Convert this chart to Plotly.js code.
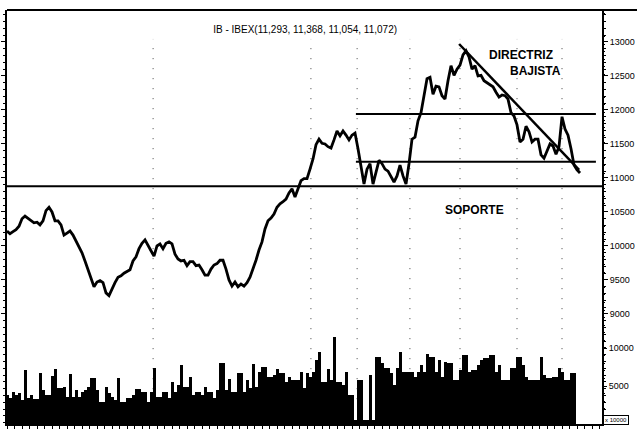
<!DOCTYPE html>
<html>
<head>
<meta charset="utf-8">
<script src="https://cdn.plot.ly/plotly-3.0.1.min.js"></script>
<style>html,body{margin:0;padding:0;background:#fff}#chart{width:637px;height:429px}</style>
</head>
<body>
<div id="chart"></div>
<script>
// IBEX daily closes (trading-day index 0..191)
const price = [
10220,10180,10210,10240,10290,10400,10440,10410,10370,10340,
10350,10310,10370,10520,10570,10500,10370,10370,10310,10160,
10190,10220,10160,10070,10000,9900,9780,9660,9530,9400,
9470,9490,9460,9310,9270,9370,9460,9540,9560,9600,
9630,9650,9780,9840,9960,10040,10090,10000,9930,9850,
10000,10030,9960,10040,10060,10030,9880,9810,9780,9790,
9710,9770,9770,9710,9720,9650,9570,9570,9660,9720,
9740,9790,9790,9660,9500,9410,9470,9400,9440,9410,
9460,9540,9660,9790,9940,10060,10250,10370,10410,10470,
10570,10620,10650,10690,10780,10840,10720,10840,10960,10990,
10990,11130,11280,11490,11570,11510,11500,11460,11440,11560,
11690,11620,11690,11630,11560,11630,11660,11430,11160,10910,
11130,11210,10910,11100,11260,11210,11130,11100,11030,10940,
11030,11190,11030,10910,11210,11570,11600,11840,11960,12230,
12460,12480,12230,12350,12340,12210,12160,12430,12650,12510,
12600,12660,12810,12870,12780,12600,12650,12500,12510,12430,
12400,12370,12340,12260,12190,12220,12210,12160,11960,11910,
11780,11530,11570,11760,11680,11530,11570,11570,11340,11290,
11400,11500,11470,11350,11460,11900,11720,11630,11430,11190,
11120,11072
];
// daily volume
const volume = [
3820,3420,4210,3820,4080,3160,7110,3420,3820,3290,
3290,6710,4470,3820,3820,6320,7240,4740,4740,4870,
3550,6580,3550,4470,3550,4210,4470,4870,6050,6050,
4470,2900,2900,4870,4080,3550,3160,6050,2900,2900,
3420,3420,3820,4610,4610,4210,4210,2900,4210,7370,
3550,3550,4210,4210,3420,5530,4210,5130,7760,4870,
4870,6190,3820,4210,4210,3820,4870,4210,4210,3420,
4470,8030,8030,4470,5920,4210,4210,6710,6710,4210,
5790,4740,7900,4870,6840,7500,7500,6190,6190,6450,
7240,6710,6710,5530,6190,5790,5790,5790,6840,4740,
6710,6190,6840,8420,9480,5530,5530,7240,5790,11450,
5530,5530,5130,6840,3820,3820,530,5790,5790,530,
530,6450,530,8820,8820,8030,7370,7370,6710,5130,
7370,9480,6840,6840,6840,6840,6190,6840,7760,6840,
9210,8820,8820,6840,8420,6190,8160,8030,8030,5790,
5790,7110,9080,9080,6840,7110,7110,7760,8420,8690,
8690,9080,9080,6840,7760,5790,5790,5790,7370,7370,
8820,8820,7760,6190,5790,5790,5790,5790,8820,6450,
6050,6050,6190,6190,7370,6840,5790,5790,6710,6710
];
const priceTicks = [9000, 9500, 10000, 10500, 11000, 11500, 12000, 12500, 13000];
const priceTickText = ["9000", "9500", "10000", "10500", "11000", "11500", "12000", "12500", "13000"];
const volTicks = [5000, 10000];
const volTickText = ["5000", "10000"];
const titleText = "IB - IBEX(11,293, 11,368, 11,054, 11,072)";
// reference levels drawn by the analyst
const soporte = 10880;
const upperLevel = 11940;
const lowerLevel = 11240;
const levelStart = 116.3, levelEnd = 196.3;
const trendStart = [150.7, 12970];
const trendEnd = [190.7, 11120];
const gridDays = [48.7, 101.3, 116.7, 134.3, 151, 170, 185];

const days = price.map((_, i) => i);
const vdays = volume.map((_, i) => i);
const FONT = "'Liberation Sans', Arial, Helvetica, sans-serif";

const traces = [
  {x: vdays, y: volume, type: 'bar', yaxis: 'y2', marker: {color: '#000', line: {width: 0}}, hoverinfo: 'skip'},
  {x: days, y: price, type: 'scatter', mode: 'lines', line: {color: '#000', width: 2.8}, hoverinfo: 'skip'}
];

const shapes = [];
gridDays.forEach(d => shapes.push({type: 'line', xref: 'x', yref: 'paper', x0: d, x1: d, y0: 0.06, y1: 0.93,
  line: {color: '#444', width: 1, dash: '1px,9px'}, layer: 'below'}));
shapes.push({type: 'line', xref: 'paper', yref: 'y', x0: 0, x1: 1, y0: soporte, y1: soporte, line: {color: '#000', width: 2}});
shapes.push({type: 'line', xref: 'x', yref: 'y', x0: levelStart, x1: levelEnd, y0: upperLevel, y1: upperLevel, line: {color: '#000', width: 2}});
shapes.push({type: 'line', xref: 'x', yref: 'y', x0: levelStart, x1: levelEnd, y0: lowerLevel, y1: lowerLevel, line: {color: '#000', width: 2}});
shapes.push({type: 'line', xref: 'x', yref: 'y', x0: trendStart[0], y0: trendStart[1], x1: trendEnd[0], y1: trendEnd[1], line: {color: '#000', width: 2.5}});
shapes.push({type: 'line', xref: 'paper', yref: 'paper', x0: 0, x1: 1.06, y0: 1, y1: 1, line: {color: '#000', width: 2}});

const layout = {
  width: 637, height: 429,
  margin: {l: 7, r: 35, t: 10, b: 5, pad: 0},
  paper_bgcolor: '#fff', plot_bgcolor: '#fff',
  showlegend: false,
  bargap: 0,
  font: {family: FONT, color: '#000', size: 9},
  title: {text: titleText, x: 0.479, y: 0.932, xanchor: 'center', yanchor: 'middle',
          font: {family: FONT, size: 10, color: '#000'}},
  xaxis: {range: [0, 198.33], showgrid: false, zeroline: false, showline: true, linecolor: '#000', linewidth: 2,
          ticks: 'outside', ticklen: 4, tickcolor: '#000', tickwidth: 1, dtick: 2.5, tick0: 0, showticklabels: false},
  yaxis: {range: [7382, 13470], side: 'right', showgrid: false, zeroline: false, showline: true, linecolor: '#000', linewidth: 2,
          mirror: 'ticks', tickmode: 'array', tickvals: priceTicks, ticktext: priceTickText,
          ticks: 'outside', ticklen: 4, tickcolor: '#000', tickwidth: 1,
          minor: {tickmode: 'linear', tick0: 0, dtick: 100, ticks: 'outside', ticklen: 2, tickcolor: '#000'},
          tickfont: {family: FONT, size: 9, color: '#000'}},
  yaxis2: {overlaying: 'y', side: 'right', anchor: 'x', range: [0, 54474], showgrid: false, zeroline: false, showline: false,
           tickmode: 'array', tickvals: volTicks, ticktext: volTickText,
           ticks: 'outside', ticklen: 4, tickcolor: '#000', tickwidth: 1,
           minor: {tickmode: 'linear', tick0: 0, dtick: 1000, ticks: 'outside', ticklen: 2, tickcolor: '#000'},
           tickfont: {family: FONT, size: 9, color: '#000'}},
  shapes: shapes,
  annotations: [
    {text: 'DIRECTRIZ', xref: 'paper', yref: 'paper', x: 0.864, y: 0.891, showarrow: false, xanchor: 'center', yanchor: 'middle',
     font: {family: FONT, size: 12, color: '#000', weight: 'bold'}},
    {text: 'BAJISTA', xref: 'paper', yref: 'paper', x: 0.888, y: 0.852, showarrow: false, xanchor: 'center', yanchor: 'middle',
     font: {family: FONT, size: 12, color: '#000', weight: 'bold'}},
    {text: 'SOPORTE', xref: 'paper', yref: 'paper', x: 0.786, y: 0.517, showarrow: false, xanchor: 'center', yanchor: 'middle',
     font: {family: FONT, size: 12, color: '#000', weight: 'bold'}},
    {text: 'x 10000', xref: 'paper', yref: 'paper', x: 1.024, y: 0.01, showarrow: false, xanchor: 'center', yanchor: 'middle',
     bordercolor: '#000', borderwidth: 1, borderpad: 1, bgcolor: '#fff',
     font: {family: FONT, size: 6, color: '#000'}}
  ]
};

Plotly.newPlot('chart', traces, layout, {displayModeBar: false, staticPlot: true});
</script>
</body>
</html>
